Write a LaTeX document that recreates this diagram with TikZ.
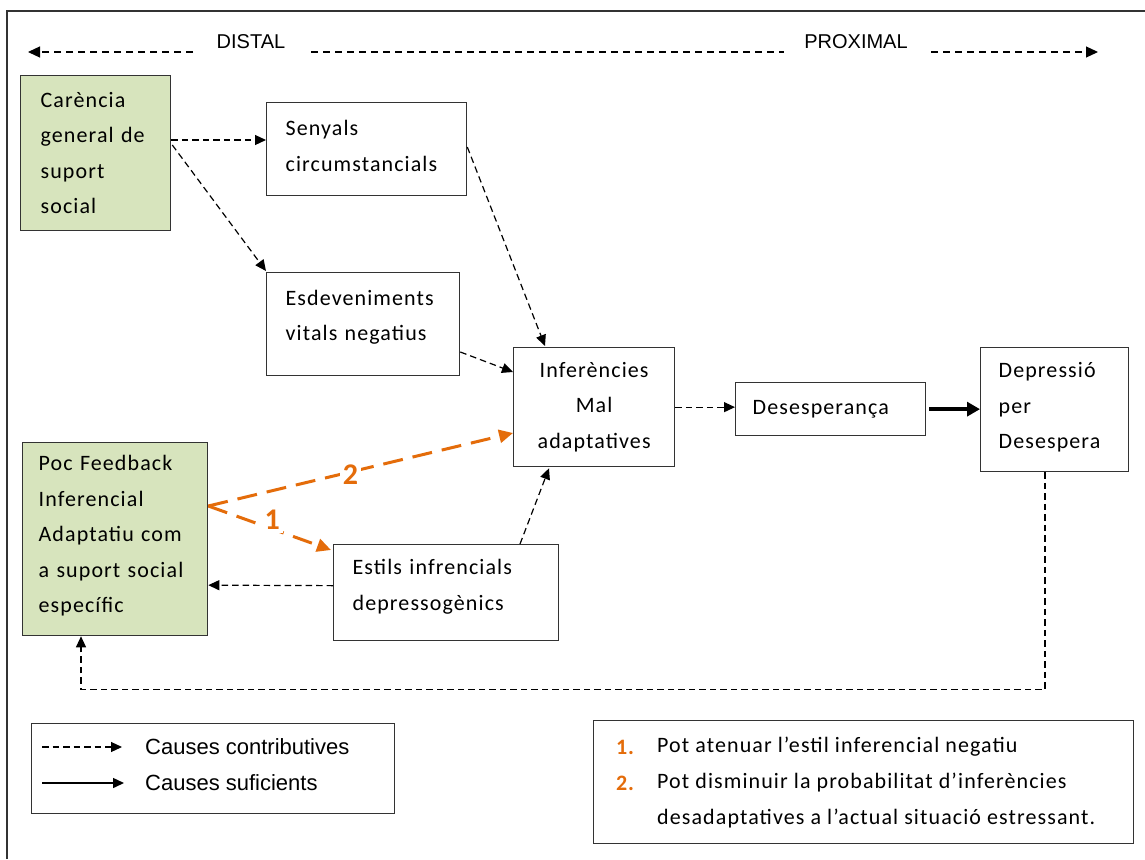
\documentclass[tikz,border=0pt]{standalone}
\usepackage{fontspec}
\usetikzlibrary{arrows.meta,calc}
\newfontfamily\calfont[LetterSpace=5]{Carlito}
\newfontfamily\calbold[LetterSpace=3]{Carlito Bold}
\newfontfamily\tahfont{Liberation Sans}
\definecolor{boxgreen}{HTML}{D7E4BD}
\definecolor{orng}{HTML}{E46C0A}
\definecolor{edge}{HTML}{333333}
\hyphenpenalty=10000
\exhyphenpenalty=10000
\begin{document}
\begin{tikzpicture}[x=1pt,y=-1pt,
  box/.style={draw=edge, line width=1.3pt, inner ysep=0pt, align=left, anchor=north west,
    font=\calfont\fontsize{22}{35.5}\selectfont},
  greenbox/.style={box, fill=boxgreen},
  conn/.style={draw=black, line width=1.2pt, dash pattern=on 6.5pt off 4pt,
    -{Triangle[length=11pt,width=10pt]}},
  hdr/.style={draw=black, line width=1.2pt, dash pattern=on 7pt off 5pt},
  hdrtxt/.style={font=\tahfont\fontsize{20}{24}\selectfont, inner sep=0pt},
  legtxt/.style={font=\tahfont\fontsize{22}{25}\selectfont, inner sep=0pt, anchor=west},
  rtxt/.style={font=\calfont\fontsize{22}{26}\selectfont, inner sep=0pt, anchor=west},
  rnum/.style={font=\calbold\fontsize{22}{26}\selectfont, text=orng, inner sep=0pt, anchor=west},
  thick arrow/.style={draw=black, line width=4.5pt, -{Triangle[length=13pt,width=14pt]}},
  orangearrow/.style={draw=orng, line width=3pt, dash pattern=on 20pt off 10pt,
    -{Triangle[length=14pt,width=13pt]}},
  olabel/.style={font=\calbold\fontsize{30}{32}\selectfont, text=orng, fill=white, inner sep=3pt}
]
\useasboundingbox (0,0) rectangle (1145,859);
\fill[white] (0,0) rectangle (1145,859);
% frame
\draw[line width=1.5pt, edge] (7,859) -- (7,11) -- (1145,11);

% header
\node[hdrtxt] (distal) at (251,42) {DISTAL};
\node[hdrtxt] (proximal) at (856,42) {PROXIMAL};
\coordinate (h0) at (28,52);
\coordinate (h1) at (193,52);
\coordinate (h2) at (311,52);
\coordinate (h3) at (784,52);
\coordinate (h4) at (931,52);
\coordinate (h5) at (1098,52);
\draw[hdr, -{Triangle[length=12pt,width=11pt]}] (h1) -- (h0);
\draw[hdr] (h2) -- (h3);
\draw[hdr, -{Triangle[length=12pt,width=11pt]}] (h4) -- (h5);

% boxes
\node[greenbox, minimum width=150pt, minimum height=155pt, text width=110pt, inner xsep=20pt]
  (car) at (20,75) {Carència\\general de\\suport\\social};
\node[box, minimum width=200pt, minimum height=93pt, text width=162pt, inner xsep=19pt]
  (sen) at (266,102) {Senyals\\circumstancials\\[-29pt]\mbox{}};
\node[box, minimum width=193pt, minimum height=103pt, text width=155pt, inner xsep=19pt]
  (esd) at (266,272) {Esdeveniments\\vitals negatius\\[-18pt]\mbox{}};
\node[box, align=center, minimum width=161pt, minimum height=119pt, text width=141pt, inner xsep=10pt]
  (inf) at (513,347) {Inferències\\Mal\\adaptatives};
\node[box, minimum width=190pt, minimum height=53pt, text width=156pt, inner xsep=17pt]
  (des) at (735,382) {Desesperança};
\node[box, minimum width=148pt, minimum height=124pt, text width=112pt, inner xsep=18pt]
  (dep) at (980,347) {Depressió\\per\\Desespera\\[-27.5pt]\mbox{}};
\node[greenbox, minimum width=185pt, minimum height=193pt, text width=153pt, inner xsep=16pt]
  (poc) at (22,442) {Poc Feedback\\Inferencial\\Adaptatiu com\\a suport social\\específic\\[-25.5pt]\mbox{}};
\node[box, minimum width=225pt, minimum height=96pt, text width=187pt, inner xsep=19pt]
  (est) at (333,544) {Estils infrencials\\depressogènics\\[-20pt]\mbox{}};

% connectors
\draw[conn] ($(car.north east)+(0,65)$) -- ($(sen.north west)+(0,38)$);
\draw[conn] ($(car.north east)+(1,70)$) -- ($(esd.north west)+(0,-1)$);
\draw[conn] ($(sen.north east)+(0,45)$) -- ($(inf.north west)+(32,-1)$);
\draw[conn] ($(esd.north east)+(0,80)$) -- ($(inf.north west)+(0,25)$);
\draw[conn] (inf.east) -- (inf.east -| des.west);
\draw[thick arrow] ($(des.east)+(3,0)$) -- (des.east -| dep.west);
\draw[conn] ($(est.north west)+(187,0)$) -- ($(inf.south west)+(36,1)$);
\draw[conn] ($(est.west)+(0,-7)$) -- ($(poc.east)+(0,46)$);
\draw[conn] ($(dep.south west)+(65,0)$) -- ++(0,217) -| ($(poc.south west)+(59,0)$);

% orange connectors
\coordinate (o0) at ($(poc.north east)+(0,64)$);
\draw[orangearrow] (o0) -- node[olabel, pos=0.467, yshift=-3pt] (lbl2) {2} ($(inf.north west)+(0,86)$);
\draw[orangearrow] (o0) -- node[olabel, pos=0.52, yshift=9pt] (lbl1) {1} ($(est.north west)+(-2,6)$);

% legend left
\node[draw=edge, line width=1.3pt, minimum width=363pt, minimum height=90pt, anchor=north west, inner sep=0pt]
  (leg1) at (31,723) {};
\coordinate (l1a) at ($(leg1.north west)+(11,24)$);
\coordinate (l1b) at ($(leg1.north west)+(91,24)$);
\coordinate (l2a) at ($(leg1.north west)+(11,60)$);
\coordinate (l2b) at ($(leg1.north west)+(93,60)$);
\draw[conn] (l1a) -- (l1b);
\draw[draw=black, line width=1.5pt, -{Triangle[length=11pt,width=10pt]}] (l2a) -- (l2b);
\node[legtxt] (lt1) at ($(leg1.north west)+(114,24)$) {Causes contributives};
\node[legtxt] (lt2) at ($(leg1.north west)+(114,60)$) {Causes suficients};

% legend right
\node[draw=edge, line width=1.3pt, minimum width=540pt, minimum height=123pt, anchor=north west, inner sep=0pt]
  (leg2) at (593,720) {};
\node[rnum] (n1) at ($(leg2.north west)+(23,27)$) {1.};
\node[rtxt] (r1) at ($(leg2.north west)+(64,27)$) {Pot atenuar l’estil inferencial negatiu};
\node[rnum] (n2) at ($(leg2.north west)+(23,63)$) {2.};
\node[rtxt] (r2) at ($(leg2.north west)+(64,63)$) {Pot disminuir la probabilitat d’inferències};
\node[rtxt] (r3) at ($(leg2.north west)+(64,99)$) {desadaptatives a l’actual situació estressant.};
\end{tikzpicture}
\end{document}
